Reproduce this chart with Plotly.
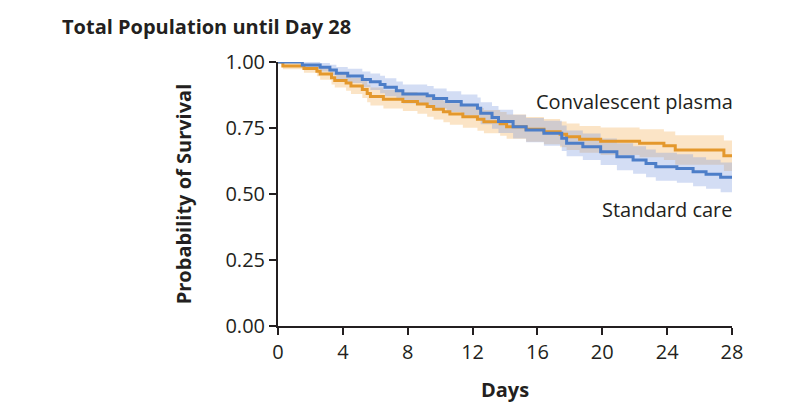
import plotly.graph_objects as go

# Standard care (blue)
sc_days = [0, 1.5, 2.6, 3.2, 3.6, 4.3, 5.2, 5.7, 6.3, 6.6, 7.3, 7.7, 9.2, 9.6, 10.4, 11.3, 12.3, 12.5,
           13.2, 13.6, 14.5, 15.3, 16.4, 17.5, 17.8, 18.8, 19.9, 20.9, 21.9, 22.7, 23.3, 24.6, 25.6, 26.4, 27.3, 28]
sc_surv = [1.0, 0.989, 0.98, 0.97, 0.957, 0.947, 0.934, 0.925, 0.915, 0.904, 0.891, 0.879, 0.872, 0.862, 0.85,
           0.837, 0.825, 0.806, 0.79, 0.775, 0.755, 0.742, 0.73, 0.711, 0.692, 0.679, 0.66, 0.641, 0.629, 0.616,
           0.603, 0.597, 0.584, 0.575, 0.563, 0.563]
sc_hi = [1.0, 1.0, 0.996, 0.99, 0.981, 0.974, 0.964, 0.956, 0.948, 0.938, 0.926, 0.915, 0.909, 0.9, 0.889, 0.877,
         0.866, 0.848, 0.833, 0.819, 0.8, 0.788, 0.777, 0.759, 0.741, 0.729, 0.71, 0.692, 0.681, 0.669, 0.656,
         0.651, 0.639, 0.63, 0.619, 0.619]
sc_lo = [1.0, 0.978, 0.964, 0.95, 0.933, 0.92, 0.904, 0.894, 0.882, 0.87, 0.856, 0.843, 0.835, 0.824, 0.811,
         0.797, 0.784, 0.764, 0.747, 0.731, 0.71, 0.696, 0.683, 0.663, 0.643, 0.629, 0.61, 0.59, 0.577, 0.563,
         0.55, 0.543, 0.529, 0.52, 0.507, 0.507]

# Convalescent plasma (orange)
cp_days = [0, 0.3, 1.6, 2.4, 2.6, 3.3, 3.5, 4.2, 4.5, 5.2, 5.5, 5.7, 6.5, 7.7, 8.6, 9.2, 9.6, 10.2, 10.6, 11.4,
           12.3, 12.7, 13.7, 14.1, 15.3, 16.4, 17.4, 17.8, 18.6, 19.9, 22.3, 23.8, 24.5, 27.5, 28]
cp_surv = [1.0, 0.985, 0.975, 0.965, 0.955, 0.94, 0.93, 0.92, 0.909, 0.896, 0.881, 0.869, 0.859, 0.85, 0.841,
           0.831, 0.821, 0.812, 0.803, 0.793, 0.783, 0.774, 0.766, 0.755, 0.745, 0.736, 0.726, 0.717, 0.707, 0.70,
           0.692, 0.683, 0.667, 0.645, 0.645]
cp_hi = [1.0, 0.997, 0.991, 0.984, 0.977, 0.965, 0.957, 0.949, 0.939, 0.928, 0.914, 0.903, 0.894, 0.886, 0.878,
         0.869, 0.86, 0.852, 0.844, 0.835, 0.826, 0.818, 0.811, 0.801, 0.792, 0.784, 0.775, 0.767, 0.758, 0.752,
         0.745, 0.737, 0.723, 0.703, 0.703]
cp_lo = [1.0, 0.973, 0.959, 0.946, 0.933, 0.915, 0.903, 0.891, 0.879, 0.864, 0.848, 0.835, 0.824, 0.814, 0.804,
         0.793, 0.782, 0.772, 0.762, 0.751, 0.74, 0.73, 0.721, 0.709, 0.698, 0.688, 0.677, 0.667, 0.656, 0.648,
         0.639, 0.629, 0.611, 0.587, 0.587]

x_ticks = [0, 4, 8, 12, 16, 20, 24, 28]
y_ticks = [0, 0.25, 0.5, 0.75, 1.0]
y_tick_labels = ["0.00", "0.25", "0.50", "0.75", "1.00"]

BLUE = "#4d7ec8"
ORANGE = "#e4982c"
FONT = "Open Sans"
DARK = "#231f20"

fig = go.Figure()

def band(days, lo, hi, color):
    fig.add_trace(go.Scatter(x=days, y=lo, mode="lines", line=dict(width=0, shape="hv"),
                             showlegend=False, hoverinfo="skip"))
    fig.add_trace(go.Scatter(x=days, y=hi, mode="lines", line=dict(width=0, shape="hv"),
                             fill="tonexty", fillcolor=color, showlegend=False, hoverinfo="skip"))

band(cp_days, cp_lo, cp_hi, "rgba(245,188,112,0.4)")
band(sc_days, sc_lo, sc_hi, "rgba(120,152,222,0.33)")

fig.add_trace(go.Scatter(x=cp_days, y=cp_surv, mode="lines", name="Convalescent plasma",
                         line=dict(color=ORANGE, width=3, shape="hv"), cliponaxis=False, showlegend=False))
fig.add_trace(go.Scatter(x=sc_days, y=sc_surv, mode="lines", name="Standard care",
                         line=dict(color=BLUE, width=3, shape="hv"), cliponaxis=False, showlegend=False))

fig.update_layout(
    width=800, height=419,
    margin=dict(l=278, r=68, t=62, b=93),
    plot_bgcolor="white", paper_bgcolor="white",
    font=dict(family=FONT, color=DARK, size=20),
    title=dict(text="<b>Total Population until Day 28</b>", x=62 / 800, xanchor="left",
               y=1 - 27 / 419, yanchor="middle", font=dict(size=20, family=FONT, color=DARK)),
    xaxis=dict(range=[0, 28], tickvals=x_ticks, ticks="outside", ticklen=7, tickwidth=1.5,
               tickcolor=DARK, showline=True, linecolor=DARK, linewidth=2, showgrid=False,
               zeroline=False, tickfont=dict(size=20, family=FONT, color=DARK),
               title=dict(text="<b>Days</b>", font=dict(size=20, family=FONT, color=DARK), standoff=19)),
    yaxis=dict(range=[0, 1], tickvals=y_ticks, ticktext=y_tick_labels, ticks="outside", ticklen=7,
               tickwidth=1.5, tickcolor=DARK, showline=True, linecolor=DARK, linewidth=2,
               showgrid=False, zeroline=False, tickfont=dict(size=20, family=FONT, color=DARK),
               title=dict(text="<b>Probability of Survival</b>", font=dict(size=20, family=FONT, color=DARK),
                          standoff=28)),
    annotations=[
        dict(x=(735 - 278) / 454, y=0.852, xref="paper", yref="y", text="Convalescent plasma", showarrow=False,
             xanchor="right", yanchor="middle", font=dict(size=20, family=FONT, color=DARK)),
        dict(x=(735 - 278) / 454, y=0.443, xref="paper", yref="y", text="Standard care", showarrow=False,
             xanchor="right", yanchor="middle", font=dict(size=20, family=FONT, color=DARK)),
    ],
)

fig.write_html("out.html")
